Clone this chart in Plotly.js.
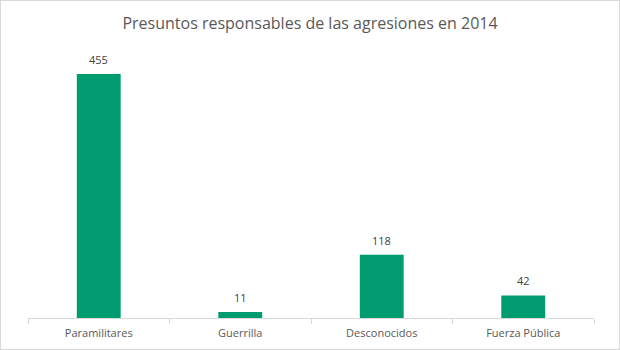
<!DOCTYPE html>
<html>
<head>
<meta charset="utf-8">
<script src="https://cdn.plot.ly/plotly-3.0.1.min.js"></script>
<style>
html,body{margin:0;padding:0;background:#fff;}
#chart{width:618px;height:348px;border:1px solid #d9d9d9;}
</style>
</head>
<body>
<div id="chart"></div>
<script>
var categories = ["Paramilitares", "Guerrilla", "Desconocidos", "Fuerza Pública"];
var values = [455, 11, 118, 42];
var titleText = "Presuntos responsables de las agresiones en 2014";

var trace = {
  type: "bar",
  x: categories,
  y: values,
  marker: {color: "#009B6F"},
  cliponaxis: false,
  hoverinfo: "none"
};

var labels = categories.map(function (c, i) {
  return {
    x: c, y: values[i], xref: "x", yref: "y",
    text: String(values[i]),
    showarrow: false,
    yanchor: "bottom",
    yshift: 5,
    font: {family: "Open Sans, sans-serif", size: 11, color: "#404040"}
  };
});

var layout = {
  width: 618,
  height: 348,
  margin: {l: 27, r: 25, t: 49, b: 31},
  paper_bgcolor: "#fff",
  plot_bgcolor: "#fff",
  title: {
    text: titleText,
    font: {family: "Open Sans, sans-serif", size: 16, color: "#595959"},
    x: 0.5, xanchor: "center", y: 0.935, yanchor: "middle"
  },
  bargap: 0.69,
  annotations: labels,
  xaxis: {
    type: "category",
    showline: true,
    linecolor: "#d9d9d9",
    linewidth: 1,
    ticks: "outside",
    tickson: "boundaries",
    ticklen: 5,
    tickcolor: "#d9d9d9",
    ticklabelstandoff: 5,
    tickfont: {family: "Open Sans, sans-serif", size: 11, color: "#595959"},
    showgrid: false,
    fixedrange: true
  },
  yaxis: {
    range: [0, 500],
    visible: false,
    showgrid: false,
    zeroline: false,
    fixedrange: true
  },
  showlegend: false
};

Plotly.newPlot("chart", [trace], layout, {displayModeBar: false, staticPlot: true});
</script>
</body>
</html>
